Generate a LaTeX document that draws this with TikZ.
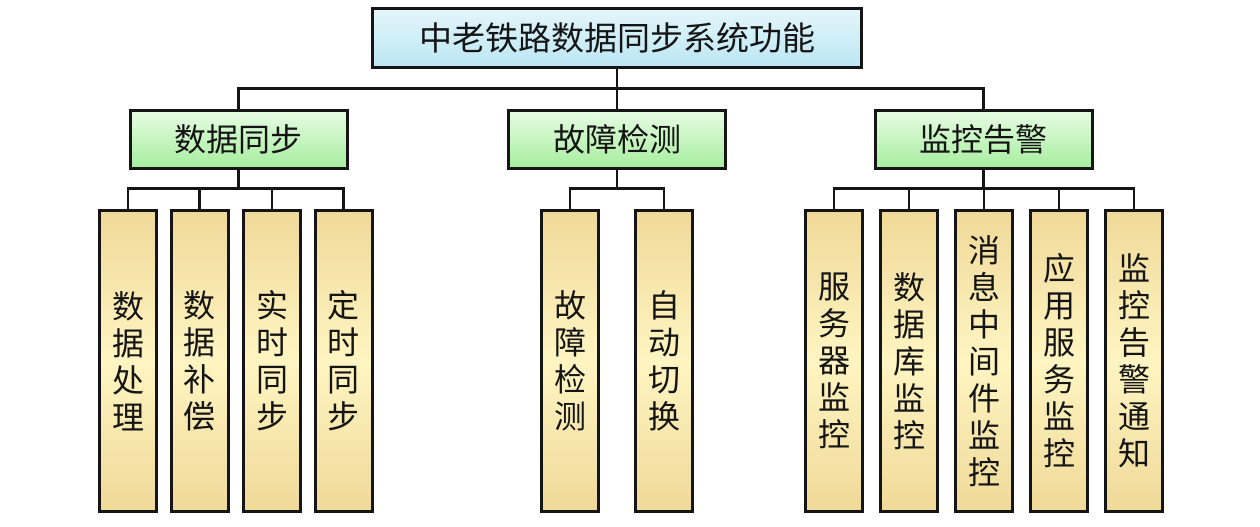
\documentclass[tikz,border=0pt]{standalone}
\usepackage{fontspec}
\setmainfont{Noto Sans CJK SC}
\usepackage{tikz}
\usetikzlibrary{calc}

\definecolor{linha}{HTML}{151515}
\definecolor{azulA}{HTML}{E4F6FB}
\definecolor{azulB}{HTML}{BBE6F3}
\definecolor{verdeA}{HTML}{E8FCE4}
\definecolor{verdeB}{HTML}{A6EE9E}
\definecolor{areiaA}{HTML}{EFD998}
\definecolor{areiaB}{HTML}{FFF5C2}

\begin{document}
\begin{tikzpicture}[x=1pt,y=-1pt,
	caixa/.style={draw=linha, line width=3pt, inner sep=0pt, text=linha},
	raiz/.style={caixa, minimum width=489pt, minimum height=59pt, top color=azulA, bottom color=azulB, font=\fontsize{33}{40}\selectfont},
	grupo/.style={caixa, minimum width=217pt, minimum height=58pt, top color=verdeA, bottom color=verdeB, font=\fontsize{32}{38}\selectfont},
	folha/.style={caixa, minimum width=57pt, minimum height=301pt, top color=areiaA, bottom color=areiaA, middle color=areiaB, align=center, font=\fontsize{32}{37}\selectfont},
	conector/.style={draw=linha, line width=2.5pt}]

	% Área
	\useasboundingbox (0,0) rectangle (1260,527);

	% Título
	\node[raiz] (raiz) at (617,38) {中老铁路数据同步系统功能};

	% Funções principais
	\node[grupo] (g1) at (238.5,139) {数据同步};
	\node[grupo] (g2) at (617,139) {故障检测};
	\node[grupo] (g3) at (983.5,139) {监控告警};

	% Funções detalhadas
	\foreach \nome/\x/\txt in {f1/128/{数\\据\\处\\理}, f2/199.5/{数\\据\\补\\偿}, f3/272/{实\\时\\同\\步}, f4/343.5/{定\\时\\同\\步},
		f5/570/{故\\障\\检\\测}, f6/664/{自\\动\\切\\换},
		f7/834/{服\\务\\器\\监\\控}, f8/909/{数\\据\\库\\监\\控}, f9/984/{消\\息\\中\\间\\件\\监\\控}, f10/1059/{应\\用\\服\\务\\监\\控}, f11/1134/{监\\控\\告\\警\\通\\知}}
		\node[folha] (\nome) at (\x,361) {\txt};

	% Ligações
	\foreach \g in {g1,g2,g3}
		\draw[conector] (raiz.south) -- ++(0,19.5) -| (\g.north);
	\foreach \f in {f1,f2,f3,f4}
		\draw[conector] (g1.south) -- ++(0,19) -| (\f.north);
	\foreach \f in {f5,f6}
		\draw[conector] (g2.south) -- ++(0,19) -| (\f.north);
	\foreach \f in {f7,f8,f9,f10,f11}
		\draw[conector] (g3.south) -- ++(0,19) -| (\f.north);

\end{tikzpicture}
\end{document}
